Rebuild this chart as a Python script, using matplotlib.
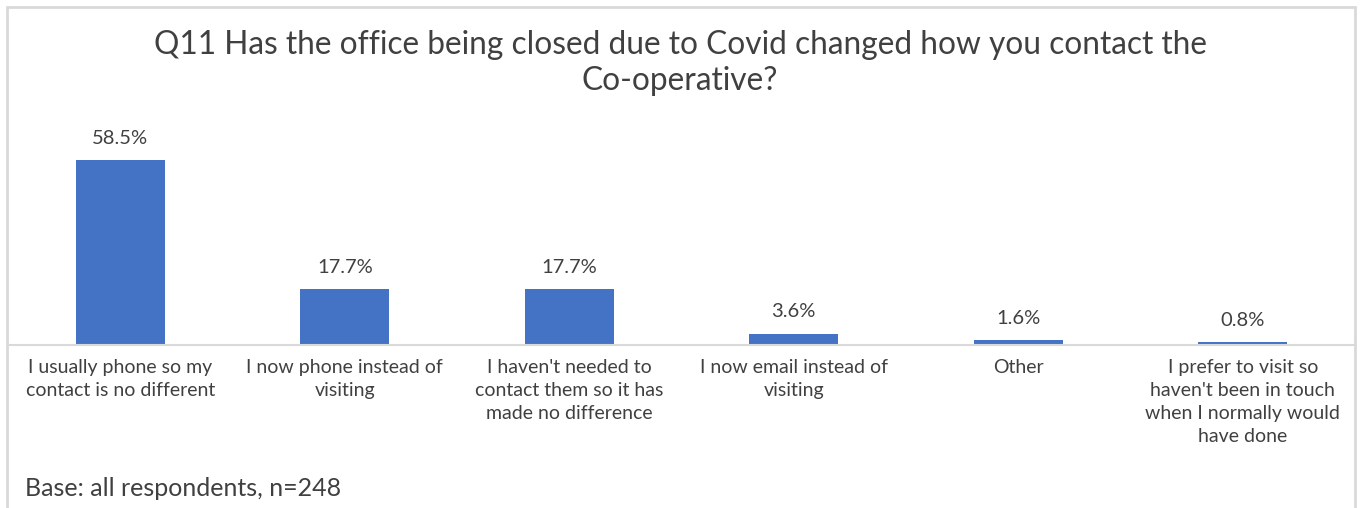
import matplotlib
matplotlib.use("Agg")
import matplotlib.pyplot as plt
from matplotlib.patches import Rectangle

# Survey responses (percent of respondents)
categories = [
    "I usually phone so my\ncontact is no different",
    "I now phone instead of\nvisiting",
    "I haven't needed to\ncontact them so it has\nmade no difference",
    "I now email instead of\nvisiting",
    "Other",
    "I prefer to visit so\nhaven't been in touch\nwhen I normally would\nhave done",
]
values = [58.5, 17.7, 17.7, 3.6, 1.6, 0.8]
value_labels = ["58.5%", "17.7%", "17.7%", "3.6%", "1.6%", "0.8%"]

title = "Q11 Has the office being closed due to Covid changed how you contact the\nCo-operative?"
base_note = "Base: all respondents, n=248"

plt.rcParams['font.family'] = ['Lato', 'DejaVu Sans']

W, H = 1360, 508
fig = plt.figure(figsize=(W / 100, H / 100), dpi=100)
fig.patch.set_facecolor("white")

# chart frame (bottom edge runs off the canvas)
frame = Rectangle((7 / W, -0.05), (1355 - 7) / W, (1 - 7 / H) + 0.05,
                  transform=fig.transFigure, fill=False,
                  edgecolor="#d9d9d9", linewidth=2)
fig.add_artist(frame)

ax_left, ax_right = 8, 1355
base_y = 345
ymax = 70
px_per_unit = (base_y - 160) / 58.5
ax_top = base_y - ymax * px_per_unit
ax = fig.add_axes([ax_left / W, 1 - base_y / H, (ax_right - ax_left) / W,
                   (base_y - ax_top) / H])

x = list(range(len(categories)))
bars = ax.bar(x, values, width=0.395, color="#4472C4", zorder=2)
ax.set_xlim(-0.5, len(categories) - 0.5)
ax.set_ylim(0, ymax)

for xi, v, lab in zip(x, values, value_labels):
    ax.annotate(lab, (xi, v), xytext=(0, 9.5), textcoords="offset points",
                ha="center", va="bottom", fontsize=14.5, color="#404040")

for side in ["top", "right", "left"]:
    ax.spines[side].set_visible(False)
ax.spines["bottom"].set_color("#d9d9d9")
ax.spines["bottom"].set_linewidth(1.5)
ax.set_yticks([])
ax.set_xticks(x)
ax.set_xticklabels(categories, fontsize=14, color="#404040", linespacing=1.42)
ax.tick_params(axis="x", length=0, pad=10)

fig.text(0.5, 1 - 30 / H, title, ha="center", va="top", fontsize=22.8,
         color="#404040", linespacing=1.25)
fig.text(25 / W, 1 - 488 / H, base_note, ha="left", va="center",
         fontsize=18, color="#404040")

fig.savefig("out.png", dpi=100, facecolor="white")
